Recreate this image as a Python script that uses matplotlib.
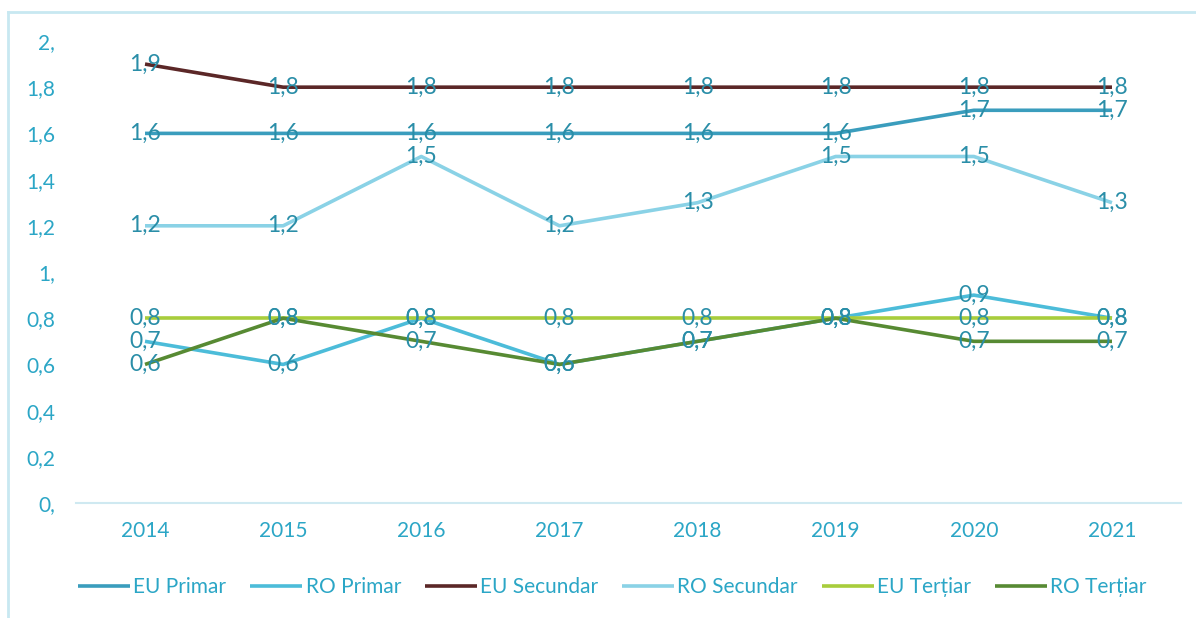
import matplotlib
matplotlib.use("Agg")
import matplotlib.pyplot as plt
from matplotlib.lines import Line2D

plt.rcParams['font.family'] = ['Lato', 'DejaVu Sans']

years = ["2014", "2015", "2016", "2017", "2018", "2019", "2020", "2021"]
eu_primar = [1.6, 1.6, 1.6, 1.6, 1.6, 1.6, 1.7, 1.7]
ro_primar = [0.7, 0.6, 0.8, 0.6, 0.7, 0.8, 0.9, 0.8]
eu_secundar = [1.9, 1.8, 1.8, 1.8, 1.8, 1.8, 1.8, 1.8]
ro_secundar = [1.2, 1.2, 1.5, 1.2, 1.3, 1.5, 1.5, 1.3]
eu_tertiar = [0.8, 0.8, 0.8, 0.8, 0.8, 0.8, 0.8, 0.8]
ro_tertiar = [0.6, 0.8, 0.7, 0.6, 0.7, 0.8, 0.7, 0.7]
yticks = [0, 0.2, 0.4, 0.6, 0.8, 1.0, 1.2, 1.4, 1.6, 1.8, 2.0]
ytick_labels = ["0,", "0,2", "0,4", "0,6", "0,8", "1,", "1,2", "1,4", "1,6", "1,8", "2,"]

series = [
    ("EU Primar", eu_primar, "#3a9dbd"),
    ("RO Primar", ro_primar, "#4cbcd9"),
    ("EU Secundar", eu_secundar, "#5b2727"),
    ("RO Secundar", ro_secundar, "#8ad2e6"),
    ("EU Terțiar", eu_tertiar, "#a8cd3c"),
    ("RO Terțiar", ro_tertiar, "#578a33"),
]

tick_color = "#2ba6c6"
label_color = "#2a8ea8"

fig = plt.figure(figsize=(11.96, 6.18), dpi=100)
ax = fig.add_axes([0.0635, 0.186, 0.924, 0.7477])

x = list(range(len(years)))
for name, vals, col in series:
    ax.plot(x, vals, color=col, lw=2.6, label=name, solid_capstyle='butt')
for name, vals, col in series:
    for xi, v in zip(x, vals):
        ax.text(xi, v, f"{v:.1f}".replace(".", ","), ha='center', va='center',
                fontsize=16.5, color=label_color)

ax.set_xlim(-0.5, len(years) - 0.5)
ax.set_ylim(0, 2.0)
ax.set_xticks(x)
ax.set_xticklabels(years)
ax.set_yticks(yticks)
ax.set_yticklabels(ytick_labels)
ax.tick_params(axis='both', length=0, labelsize=15, colors=tick_color)
ax.tick_params(axis='x', pad=13)
ax.tick_params(axis='y', pad=15)
for s in ['top', 'right', 'left']:
    ax.spines[s].set_visible(False)
ax.spines['bottom'].set_color("#cfe9f1")
ax.spines['bottom'].set_linewidth(1.5)

leg = fig.legend(loc='center', bbox_to_anchor=(0.512, 0.05), ncol=6, frameon=False,
                 fontsize=15, handlelength=2.5, handletextpad=0.15, columnspacing=1.15)
for t in leg.get_texts():
    t.set_color(tick_color)

# outer chart border (left and top visible)
bx = 8 / 1196
by = 1 - 12 / 618
fig.add_artist(Line2D([bx, bx], [0, by], transform=fig.transFigure, color="#c8e8f1", lw=2))
fig.add_artist(Line2D([bx, 1], [by, by], transform=fig.transFigure, color="#c8e8f1", lw=2))

fig.savefig("out.png", dpi=100)
